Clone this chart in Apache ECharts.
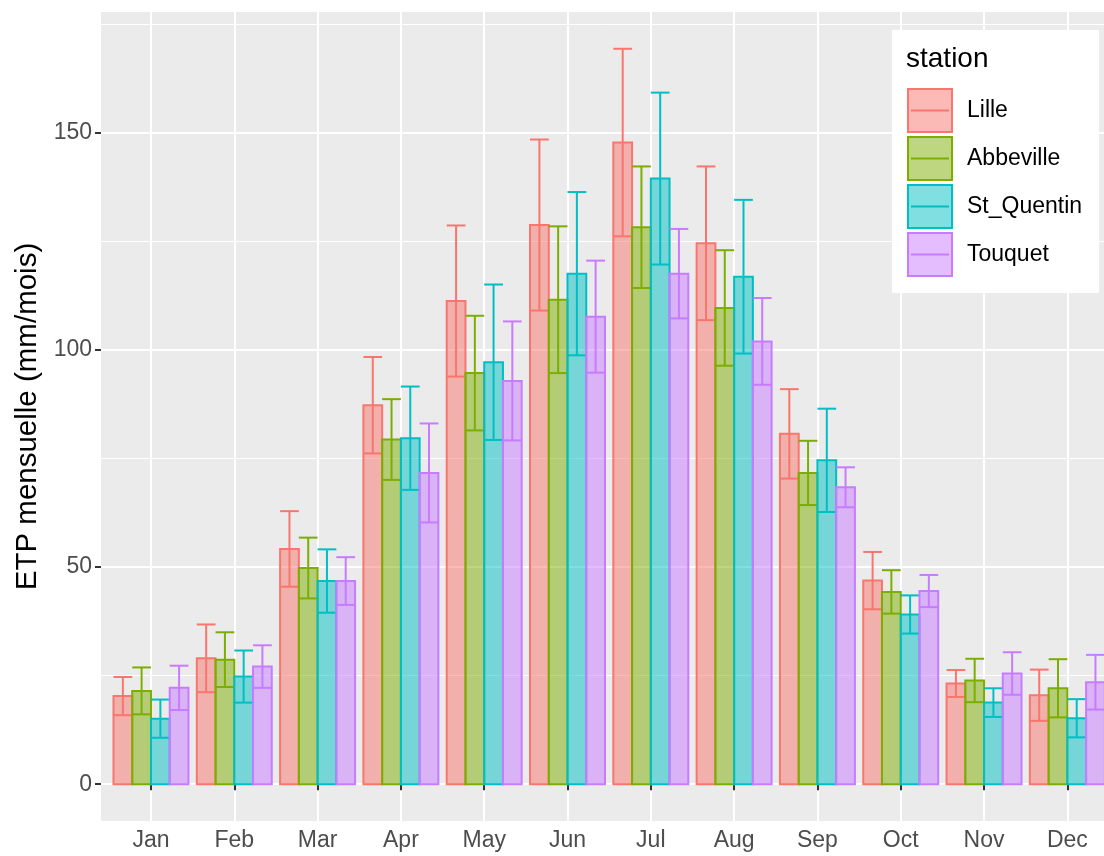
<!DOCTYPE html>
<html>
<head>
<meta charset="utf-8">
<title>ETP mensuelle</title>
<script src="https://cdn.jsdelivr.net/npm/echarts@6/dist/echarts.min.js"></script>
<style>
    html, body { margin: 0; padding: 0; background: #fff; }
    #chart { width: 1104px; height: 856px; }
</style>
</head>
<body>
<div id="chart"></div>
<script>
var months = ['Jan', 'Feb', 'Mar', 'Apr', 'May', 'Jun', 'Jul', 'Aug', 'Sep', 'Oct', 'Nov', 'Dec'];
var stations = ['Lille', 'Abbeville', 'St_Quentin', 'Touquet'];

// mean and standard deviation, mm/month
var lilleMean = [20.3, 29.0, 54.2, 87.3, 111.3, 128.8, 147.8, 124.6, 80.7, 46.9, 23.2, 20.5];
var lilleSd = [4.4, 7.8, 8.7, 11.1, 17.4, 19.7, 21.6, 17.7, 10.3, 6.6, 3.1, 5.9];
var abbevilleMean = [21.5, 28.7, 49.8, 79.4, 94.7, 111.6, 128.3, 109.7, 71.7, 44.3, 23.9, 22.1];
var abbevilleSd = [5.4, 6.3, 7.0, 9.3, 13.2, 16.9, 14.0, 13.3, 7.4, 5.0, 5.0, 6.7];
var stQuentinMean = [15.1, 24.8, 46.8, 79.7, 97.2, 117.6, 139.5, 116.9, 74.6, 39.1, 18.8, 15.2];
var stQuentinSd = [4.4, 6.0, 7.3, 11.9, 17.9, 18.8, 19.8, 17.7, 11.9, 4.4, 3.3, 4.4];
var touquetMean = [22.2, 27.1, 46.8, 71.7, 92.9, 107.7, 117.6, 102.0, 68.4, 44.5, 25.5, 23.5];
var touquetSd = [5.1, 4.9, 5.5, 11.4, 13.7, 12.9, 10.3, 10.0, 4.6, 3.7, 4.9, 6.3];

var yTicks = [0, 50, 100, 150];
var yMinorTicks = [25, 75, 125, 175];

var means = [lilleMean, abbevilleMean, stQuentinMean, touquetMean];
var sds = [lilleSd, abbevilleSd, stQuentinSd, touquetSd];
var lineColors = ['#F8766D', '#7CAE00', '#00BFC4', '#C77CFF'];
var fillColors = ['rgba(248,118,109,0.5)', 'rgba(124,174,0,0.5)', 'rgba(0,191,196,0.5)', 'rgba(199,124,255,0.5)'];

var FONT = 'Liberation Sans, Arial, sans-serif';
var BAR_W = 0.9 / stations.length;

// y range like ggplot: data range + 5% each side
var hi = 0;
means.forEach(function (arr, s) {
    arr.forEach(function (v, i) { hi = Math.max(hi, v + sds[s][i]); });
});
var yMin = -0.05 * hi;
var yMax = hi * 1.05;

// the panel runs past the right edge of the picture (cut at ~12.44)
var xMin = 0.4;
var xMax = 12.44;

function renderItem(params, api) {
    var m = api.value(0), mean = api.value(1), sd = api.value(2), s = api.value(3);
    var xc = m + (s - (stations.length - 1) / 2) * BAR_W;
    var tl = api.coord([xc - BAR_W / 2, mean]);
    var br = api.coord([xc + BAR_W / 2, 0]);
    var up = api.coord([xc, mean + sd]);
    var lo = api.coord([xc, mean - sd]);
    var line = { stroke: lineColors[s], lineWidth: 2 };
    return {
        type: 'group',
        children: [
            { type: 'rect', shape: { x: tl[0], y: tl[1], width: br[0] - tl[0], height: br[1] - tl[1] },
              style: { fill: fillColors[s], stroke: lineColors[s], lineWidth: 2 } },
            { type: 'line', shape: { x1: up[0], y1: up[1], x2: lo[0], y2: lo[1] }, style: line },
            { type: 'line', shape: { x1: tl[0], y1: up[1], x2: br[0], y2: up[1] }, style: line },
            { type: 'line', shape: { x1: tl[0], y1: lo[1], x2: br[0], y2: lo[1] }, style: line }
        ]
    };
}

var series = stations.map(function (name, s) {
    return {
        name: name,
        type: 'custom',
        renderItem: renderItem,
        itemStyle: { color: fillColors[s], borderColor: lineColors[s], borderWidth: 2 },
        encode: { x: 0, y: 1 },
        data: months.map(function (mo, i) {
            return [i + 1, means[s][i], sds[s][i], s];
        })
    };
});

var keyIcon = 'path://M0,0H44V43H0Z M4,21.45H40V21.55H4Z';
var monthPos = months.map(function (m, i) { return i + 1; });

var dom = document.getElementById('chart');
var myChart = echarts.init(dom);
var option = {
    animation: false,
    backgroundColor: '#fff',
    textStyle: { fontFamily: FONT },
    title: {
        text: 'station',
        left: 906,
        top: 45,
        padding: 0,
        textStyle: { fontFamily: FONT, fontSize: 28, fontWeight: 'normal', color: '#000' }
    },
    legend: {
        orient: 'vertical',
        left: 892,
        top: 30,
        padding: [58, 17, 16, 15],
        backgroundColor: '#fff',
        itemWidth: 44,
        itemHeight: 43,
        itemGap: 3,
        selectedMode: false,
        textStyle: { fontFamily: FONT, fontSize: 23, color: '#000', padding: [0, 0, 0, 10] },
        data: stations.map(function (name, s) {
            return {
                name: name,
                icon: keyIcon,
                itemStyle: { color: fillColors[s], borderColor: lineColors[s], borderWidth: 2 }
            };
        })
    },
    grid: {
        left: 101,
        top: 12,
        right: 0,
        height: 809,
        show: true,
        backgroundColor: '#EBEBEB',
        borderWidth: 0
    },
    xAxis: {
        type: 'value',
        min: xMin,
        max: xMax,
        axisLine: { show: false },
        axisTick: { show: true, length: 6, customValues: monthPos,
                    lineStyle: { color: '#333', width: 2 } },
        axisLabel: {
            customValues: monthPos,
            formatter: function (v) { return months[Math.round(v) - 1]; },
            fontFamily: FONT, fontSize: 23, color: '#4D4D4D', margin: 8
        },
        splitLine: { show: true, lineStyle: { color: '#fff', width: 2 } }
    },
    yAxis: [{
        type: 'value',
        min: yMin,
        max: yMax,
        name: 'ETP mensuelle (mm/mois)',
        nameLocation: 'middle',
        nameRotate: 90,
        nameGap: 58,
        nameTextStyle: { fontFamily: FONT, fontSize: 29.5, color: '#000' },
        axisLine: { show: false },
        axisTick: { show: true, length: 6, customValues: yTicks, lineStyle: { color: '#333', width: 2 } },
        axisLabel: { customValues: yTicks, fontFamily: FONT, fontSize: 23, color: '#4D4D4D', margin: 9 },
        splitLine: { show: true, lineStyle: { color: '#fff', width: 2 } }
    }, {
        type: 'value',
        min: yMin,
        max: yMax,
        position: 'left',
        axisLine: { show: false },
        axisTick: { show: false, customValues: yMinorTicks },
        axisLabel: { show: false, customValues: yMinorTicks },
        splitLine: { show: true, lineStyle: { color: '#fff', width: 1 } }
    }],
    series: series
};
myChart.setOption(option, true);
</script>
</body>
</html>
